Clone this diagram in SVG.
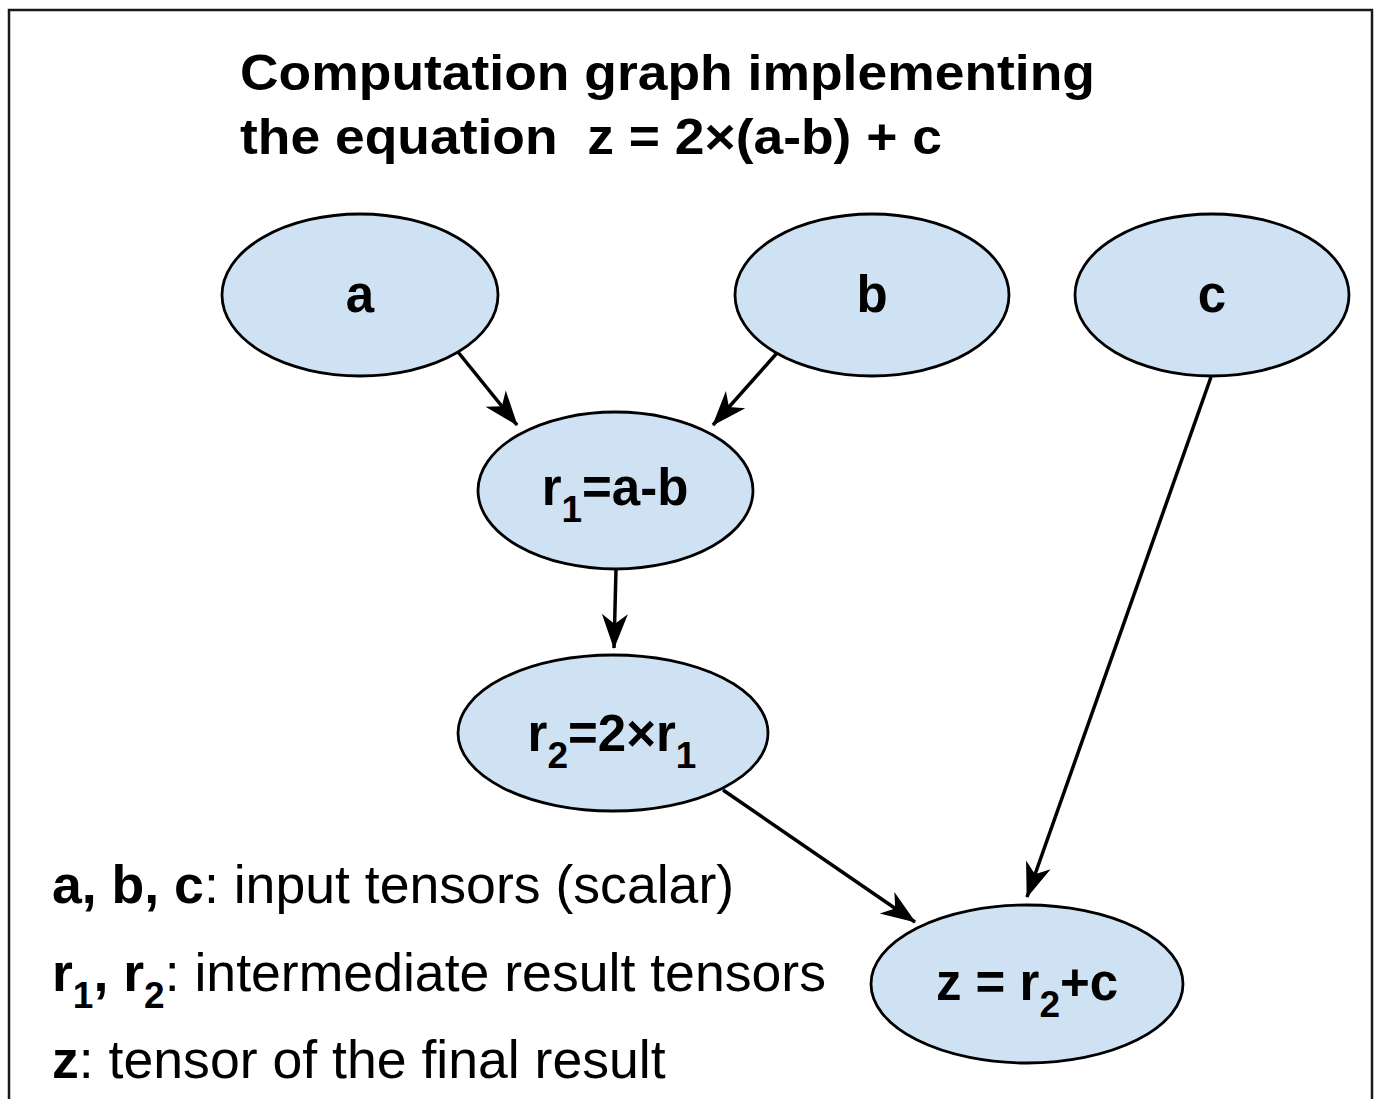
<svg xmlns="http://www.w3.org/2000/svg" width="1377" height="1099" viewBox="0 0 1377 1099">
<style>
  .bg { fill: #ffffff; }
  .frame { fill: none; stroke: #1a1a1a; stroke-width: 2.5; }
  .node { fill: #cfe2f3; stroke: #000000; stroke-width: 2.8; }
  .edge { fill: none; stroke: #000000; stroke-width: 3.5; }
  .title { font-family: "Liberation Sans", Arial, sans-serif; font-weight: bold; font-size: 50px; fill: #000; white-space: pre; }
  .lbl { font-family: "Liberation Sans", Arial, sans-serif; font-weight: bold; font-size: 51px; fill: #000; text-anchor: middle; }
  .sub { font-size: 37px; }
  .leg { font-family: "Liberation Sans", Arial, sans-serif; font-size: 53.6px; fill: #000; }
  .b { font-weight: bold; }
</style>
<defs>
  <marker id="arr" markerUnits="userSpaceOnUse" markerWidth="40" markerHeight="30" refX="34" refY="13" orient="auto" overflow="visible">
    <path d="M0,0 L35,13 L0,26 L10,13 Z" fill="#000"/>
  </marker>
</defs>
<rect class="bg" x="0" y="0" width="1377" height="1099"/>
<rect class="frame" x="9" y="10" width="1363" height="1110"/>

<g id="title">
  <text class="title" x="240" y="90" textLength="855" lengthAdjust="spacingAndGlyphs">Computation graph implementing</text>
  <text class="title" x="240" y="154" textLength="702" lengthAdjust="spacingAndGlyphs">the equation  z = 2×(a-b) + c</text>
</g>

<g id="connectors">
  <line class="edge" x1="458" y1="352" x2="517" y2="425" marker-end="url(#arr)"/>
  <line class="edge" x1="777" y1="353" x2="713" y2="425" marker-end="url(#arr)"/>
  <line class="edge" x1="616" y1="569" x2="614" y2="648" marker-end="url(#arr)"/>
  <line class="edge" x1="1211" y1="377" x2="1027" y2="897" marker-end="url(#arr)"/>
  <line class="edge" x1="723" y1="790" x2="915" y2="922" marker-end="url(#arr)"/>
</g>

<g id="node-a">
  <ellipse class="node" cx="360" cy="295" rx="138" ry="81"/>
  <text class="lbl" x="360" y="312">a</text>
</g>
<g id="node-b">
  <ellipse class="node" cx="872" cy="295" rx="137" ry="81"/>
  <text class="lbl" x="872" y="312">b</text>
</g>
<g id="node-c">
  <ellipse class="node" cx="1212" cy="295" rx="137" ry="81"/>
  <text class="lbl" x="1212" y="312">c</text>
</g>
<g id="node-r1">
  <ellipse class="node" cx="615.5" cy="490.5" rx="137.5" ry="78.5"/>
  <text class="lbl" x="615" y="505">r<tspan class="sub" dy="17">1</tspan><tspan dy="-17">=a-b</tspan></text>
</g>
<g id="node-r2">
  <ellipse class="node" cx="613" cy="733" rx="155" ry="78"/>
  <text class="lbl" x="612" y="751">r<tspan class="sub" dy="17">2</tspan><tspan dy="-17">=2×r</tspan><tspan class="sub" dy="17">1</tspan></text>
</g>
<g id="node-z">
  <ellipse class="node" cx="1027" cy="984" rx="156" ry="79"/>
  <text class="lbl" x="1027" y="1000">z = r<tspan class="sub" dy="17">2</tspan><tspan dy="-17">+c</tspan></text>
</g>

<g id="legend">
  <text class="leg" x="52" y="903"><tspan class="b">a, b, c</tspan>: input tensors (scalar)</text>
  <text class="leg" x="52" y="991"><tspan class="b">r</tspan><tspan class="b sub" dy="17">1</tspan><tspan class="b" dy="-17">, r</tspan><tspan class="b sub" dy="17">2</tspan><tspan dy="-17">: intermediate result tensors</tspan></text>
  <text class="leg" x="52" y="1078"><tspan class="b">z</tspan>: tensor of the final result</text>
</g>
</svg>
